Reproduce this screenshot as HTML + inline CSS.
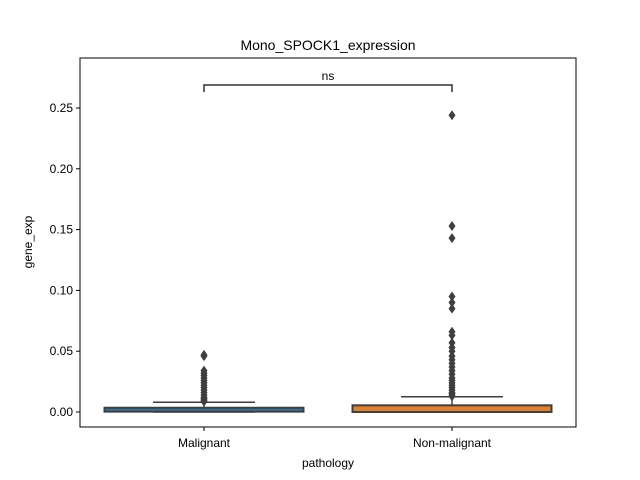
<!DOCTYPE html>
<html><head><meta charset="utf-8"><style>
html,body{margin:0;padding:0;background:#fff}
svg{display:block;font-family:"Liberation Sans","DejaVu Sans",sans-serif}
</style></head><body>
<svg id="c" width="640" height="480" viewBox="0 0 640 480">
<rect width="640" height="480" fill="#fff"/>
<text x="328" y="50" font-size="14" text-anchor="middle">Mono_SPOCK1_expression</text>
<g id="plot"></g>
<rect x="80" y="58" width="496" height="369" fill="none" stroke="#000" stroke-width="1"/>
<text x="328" y="467" font-size="12" text-anchor="middle">pathology</text>
<text transform="translate(32,242) rotate(-90)" font-size="12" text-anchor="middle">gene_exp</text>
</svg>
<script>
const categories=["Malignant","Non-malignant"];
const q1=[0.0003,0.0];
const med=[0.0018,0.003];
const q3=[0.0035,0.0055];
const whiskLo=[0.0,0.0];
const whiskHi=[0.008,0.0125];
const colors=["#3274a1","#e1812c"];
const fliers=[
 [0.047,0.046,0.034,0.032,0.030,0.028,0.026,0.024,0.022,0.020,0.018,0.016,0.014,0.012,0.011,0.010,0.009,0.0085],
 [0.244,0.153,0.143,0.095,0.090,0.085,0.066,0.063,0.057,0.053,0.050,0.046,0.043,0.040,0.037,0.034,0.031,0.028,0.026,0.024,0.022,0.020,0.018,0.016,0.015,0.014,0.013]
];
const yTicks=[0,0.05,0.10,0.15,0.20,0.25];
const yLabels=["0.00","0.05","0.10","0.15","0.20","0.25"];
const sig="ns";
const y=v=>412-v*(304/0.25);
const x=i=>204+i*248;
const g=document.getElementById('plot');
const NS='http://www.w3.org/2000/svg';
function mk(t,a){const e=document.createElementNS(NS,t);for(const k in a)e.setAttribute(k,a[k]);g.appendChild(e);return e;}
yTicks.forEach((v,i)=>{
 const t=mk('line',{x1:76,x2:80,y1:y(v),y2:y(v),stroke:'#000'});
 
 
 const l=mk('text',{x:73,y:y(v)+4,'font-size':12,'text-anchor':'end'});l.textContent=yLabels[i];
 
 
});
categories.forEach((c,i)=>{
 const cx=x(i);
 const t=mk('line',{x1:cx,x2:cx,y1:427,y2:431,stroke:'#000'});
 
 
 const l=mk('text',{x:cx,y:447,'font-size':12,'text-anchor':'middle'});l.textContent=c;
 
 
 const hw=99.5,cw=51;
 const w1=mk('line',{x1:cx,x2:cx,y1:y(q3[i]),y2:y(whiskHi[i]),stroke:'#3f3f3f','stroke-width':1.5});
 
 
 const c1=mk('line',{x1:cx-cw,x2:cx+cw,y1:y(whiskHi[i]),y2:y(whiskHi[i]),stroke:'#3f3f3f','stroke-width':1.5});
 
 
 const c2=mk('line',{x1:cx-cw,x2:cx+cw,y1:y(whiskLo[i]),y2:y(whiskLo[i]),stroke:'#3f3f3f','stroke-width':1.5});
 
 
 const b=mk('rect',{x:cx-hw,y:y(q3[i]),width:hw*2,height:Math.max(1,y(q1[i])-y(q3[i])),fill:colors[i],stroke:'#3f3f3f','stroke-width':2});
 
 
 const m=mk('line',{x1:cx-hw+1,x2:cx+hw-1,y1:y(med[i]),y2:y(med[i]),stroke:colors[i],'stroke-width':1.5});
 
 
 fliers[i].forEach(v=>{
  const py=y(v);
  const d=mk('polygon',{points:`${cx},${py-5} ${cx+3.5},${py} ${cx},${py+5} ${cx-3.5},${py}`,fill:'#3f3f3f'});
  
  
 });
});
const br=mk('polyline',{points:`${x(0)},92 ${x(0)},85 ${x(1)},85 ${x(1)},92`,fill:'none',stroke:'#333','stroke-width':1.5});


const s=mk('text',{x:(x(0)+x(1))/2,y:80,'font-size':12,'text-anchor':'middle'});s.textContent=sig;


</script>
</body></html>
